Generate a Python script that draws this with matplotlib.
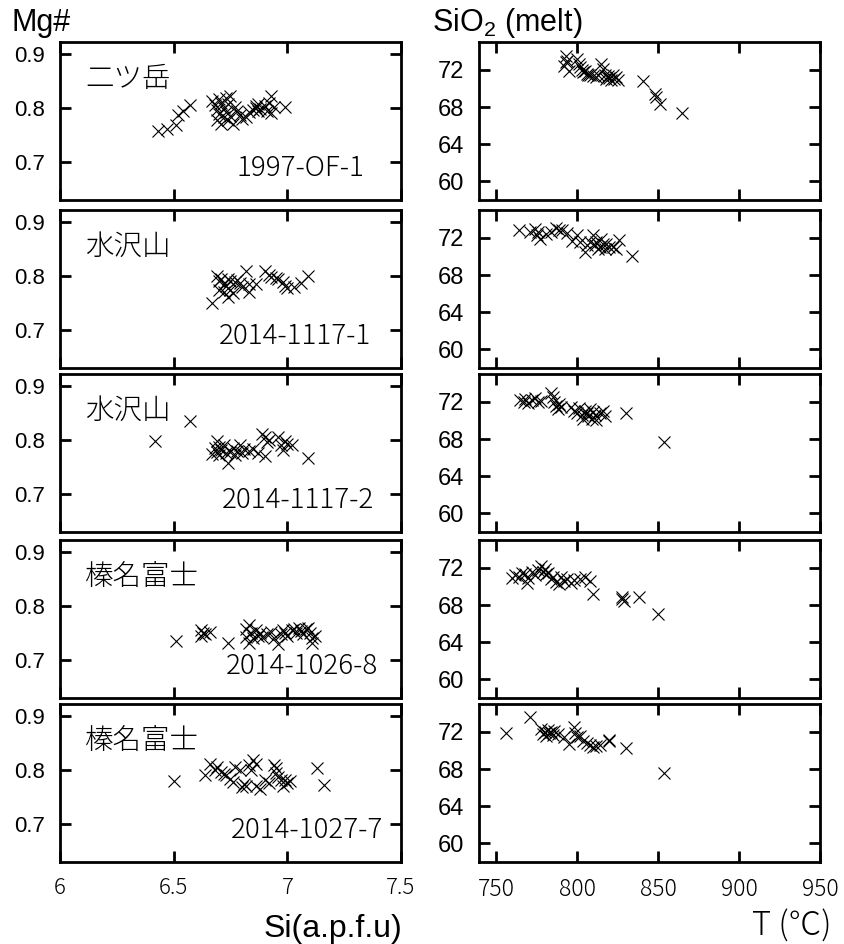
import matplotlib
matplotlib.use("Agg")
import matplotlib.pyplot as plt

plt.rcParams['mathtext.fontset'] = 'custom'
plt.rcParams['mathtext.rm'] = 'Liberation Sans'

volcanoes = ['二ツ岳', '水沢山', '水沢山', '榛名富士', '榛名富士']
samples = ['1997-OF-1', '2014-1117-1', '2014-1117-2', '2014-1026-8', '2014-1027-7']

# Si (a.p.f.u) vs Mg#
si1 = [6.43, 6.47, 6.51, 6.52, 6.54, 6.57, 6.67, 6.68, 6.69, 6.69, 6.70, 6.70, 6.71, 6.71,
       6.72, 6.72, 6.73, 6.73, 6.74, 6.74, 6.75, 6.75, 6.76, 6.77, 6.78, 6.79, 6.80, 6.82,
       6.83, 6.85, 6.86, 6.86, 6.87, 6.87, 6.88, 6.90, 6.91, 6.92, 6.93, 6.93, 6.94, 6.99]
mg1 = [0.758, 0.762, 0.768, 0.788, 0.795, 0.806, 0.813, 0.805, 0.797, 0.778, 0.816, 0.789,
       0.810, 0.771, 0.783, 0.800, 0.819, 0.792, 0.777, 0.807, 0.823, 0.786, 0.770, 0.801,
       0.795, 0.788, 0.780, 0.784, 0.792, 0.797, 0.804, 0.800, 0.795, 0.808, 0.799, 0.804,
       0.795, 0.810, 0.822, 0.790, 0.802, 0.802]

si2 = [6.67, 6.70, 6.69, 6.70, 6.71, 6.72, 6.72, 6.73, 6.74, 6.74, 6.75, 6.75, 6.76, 6.77,
       6.78, 6.79, 6.80, 6.82, 6.83, 6.83, 6.86, 6.90, 6.92, 6.93, 6.95, 6.96, 6.98, 6.99,
       7.00, 7.03, 7.06, 7.09]
mg2 = [0.750, 0.774, 0.800, 0.790, 0.795, 0.785, 0.770, 0.781, 0.795, 0.762, 0.775, 0.790,
       0.768, 0.789, 0.793, 0.788, 0.780, 0.810, 0.770, 0.785, 0.785, 0.809, 0.802, 0.799,
       0.797, 0.795, 0.789, 0.781, 0.778, 0.780, 0.787, 0.800]

si3 = [6.42, 6.57, 6.67, 6.68, 6.69, 6.69, 6.70, 6.70, 6.71, 6.72, 6.73, 6.74, 6.75, 6.76,
       6.77, 6.78, 6.79, 6.80, 6.81, 6.83, 6.85, 6.87, 6.89, 6.90, 6.90, 6.91, 6.92, 6.96,
       6.97, 6.98, 6.99, 7.00, 7.02, 7.09]
mg3 = [0.798, 0.836, 0.775, 0.785, 0.778, 0.798, 0.787, 0.772, 0.782, 0.790, 0.776, 0.758,
       0.778, 0.785, 0.772, 0.780, 0.790, 0.776, 0.784, 0.780, 0.784, 0.776, 0.812, 0.806,
       0.771, 0.797, 0.800, 0.806, 0.790, 0.782, 0.798, 0.793, 0.790, 0.767]

si4 = [6.51, 6.62, 6.62, 6.63, 6.64, 6.66, 6.74, 6.82, 6.82, 6.83, 6.83, 6.84, 6.85, 6.86,
       6.87, 6.88, 6.89, 6.91, 6.93, 6.94, 6.96, 6.97, 6.98, 6.99, 7.00, 7.02, 7.03, 7.04,
       7.05, 7.06, 7.07, 7.08, 7.09, 7.10, 7.11, 7.11, 7.12]
mg4 = [0.735, 0.755, 0.745, 0.750, 0.748, 0.752, 0.732, 0.758, 0.742, 0.765, 0.732, 0.750,
       0.740, 0.755, 0.745, 0.750, 0.742, 0.748, 0.752, 0.740, 0.730, 0.748, 0.755, 0.750,
       0.745, 0.755, 0.758, 0.750, 0.760, 0.753, 0.748, 0.757, 0.760, 0.750, 0.740, 0.732,
       0.745]

si5 = [6.50, 6.64, 6.66, 6.68, 6.69, 6.71, 6.72, 6.73, 6.75, 6.76, 6.77, 6.79, 6.80, 6.81,
       6.82, 6.83, 6.84, 6.85, 6.86, 6.86, 6.88, 6.90, 6.92, 6.94, 6.95, 6.95, 6.96, 6.97,
       6.98, 6.99, 7.00, 7.01, 7.13, 7.16]
mg5 = [0.779, 0.791, 0.812, 0.800, 0.805, 0.797, 0.792, 0.791, 0.783, 0.778, 0.806, 0.800,
       0.768, 0.775, 0.770, 0.809, 0.800, 0.818, 0.812, 0.770, 0.764, 0.782, 0.776, 0.809,
       0.804, 0.794, 0.788, 0.782, 0.770, 0.782, 0.776, 0.779, 0.803, 0.773]

# T (C) vs SiO2 (melt)
t1 = [793, 794, 792, 795, 793, 800, 801, 802, 803, 804, 805, 806, 807, 808, 810, 812, 813,
      815, 816, 817, 818, 819, 820, 821, 822, 823, 824, 825, 841, 848, 849, 851, 865]
sio1 = [73.5, 73.0, 72.4, 71.9, 72.8, 73.2, 72.6, 72.3, 72.0, 71.8, 71.9, 71.6, 71.5, 71.4,
        71.3, 71.2, 71.5, 72.6, 72.1, 71.5, 71.0, 71.3, 71.1, 70.9, 71.4, 71.0, 71.2, 70.9,
        70.8, 69.4, 69.1, 68.3, 67.4]

t2 = [764, 771, 774, 775, 777, 776, 781, 784, 787, 789, 791, 794, 797, 800, 802, 805, 806,
      808, 810, 811, 812, 813, 814, 815, 816, 817, 818, 820, 822, 824, 826, 834]
sio2 = [72.8, 72.6, 73.0, 72.3, 71.9, 72.6, 72.4, 72.6, 73.1, 72.9, 72.8, 72.5, 71.7, 72.3,
        71.6, 70.5, 71.2, 71.6, 72.3, 71.2, 71.6, 70.8, 71.0, 71.9, 71.3, 70.8, 71.3, 71.0,
        71.0, 70.8, 71.8, 70.1]

t3 = [765, 767, 768, 770, 772, 774, 776, 778, 784, 785, 786, 787, 788, 789, 790, 796, 798,
      800, 801, 803, 804, 805, 806, 807, 808, 809, 810, 811, 812, 814, 816, 817, 830, 854]
sio3 = [72.2, 72.0, 72.3, 71.9, 72.2, 72.4, 72.0, 72.1, 73.0, 72.5, 72.0, 71.6, 71.2, 71.8,
        71.4, 71.4, 71.0, 70.8, 71.3, 70.6, 70.2, 71.0, 70.8, 70.5, 71.2, 70.2, 70.9, 70.6,
        70.0, 70.8, 71.0, 70.5, 70.8, 67.7]

t4 = [760, 762, 764, 766, 768, 769, 770, 772, 774, 776, 778, 779, 780, 781, 782, 784, 785,
      787, 789, 790, 792, 794, 796, 798, 802, 805, 808, 810, 828, 828, 829, 838, 850]
sio4 = [70.9, 71.2, 71.0, 71.5, 71.3, 70.4, 70.9, 71.6, 71.2, 71.8, 72.2, 71.6, 71.9, 71.3,
        71.5, 70.8, 71.0, 70.5, 70.3, 71.0, 70.6, 70.8, 70.4, 70.7, 70.8, 71.0, 70.6, 69.2,
        68.9, 68.6, 68.4, 68.9, 67.0]

t5 = [756, 771, 778, 779, 780, 781, 782, 783, 784, 785, 786, 788, 792, 795, 798, 799, 800,
      802, 804, 806, 808, 810, 812, 814, 820, 820, 830, 854]
sio5 = [71.9, 73.6, 72.3, 71.8, 72.0, 71.6, 72.2, 71.9, 72.0, 71.7, 72.1, 71.8, 71.5, 70.7,
        72.5, 71.9, 71.4, 71.6, 71.0, 70.8, 70.6, 70.4, 70.5, 70.6, 71.0, 71.1, 70.3, 67.6]

si_ticks = [6, 6.5, 7, 7.5]
si_labels = ['6', '6.5', '7', '7.5']
mg_ticks = [0.7, 0.8, 0.9]
mg_labels = ['0.7', '0.8', '0.9']
t_ticks = [750, 800, 850, 900, 950]
t_labels = ['750', '800', '850', '900', '950']
sio_ticks = [60, 64, 68, 72]
sio_labels = ['60', '64', '68', '72']

si_all = [si1, si2, si3, si4, si5]
mg_all = [mg1, mg2, mg3, mg4, mg5]
t_all = [t1, t2, t3, t4, t5]
sio_all = [sio1, sio2, sio3, sio4, sio5]

# right edge of the sample id text in each left panel (data x)
id_x = [7.34, 7.37, 7.38, 7.40, 7.42]

W, H = 845, 944
tops = [42, 210, 374, 540, 704]
ph = 158

fig = plt.figure(figsize=(W / 100, H / 100), dpi=100)

cjk = ['Noto Sans CJK JP', 'DejaVu Sans']
helv = 'Liberation Sans'


def style(ax):
    for s in ax.spines.values():
        s.set_linewidth(2.0)
    ax.tick_params(direction='in', top=True, right=True, length=8, width=2.0, pad=11)


for i in range(5):
    bottom = 1 - (tops[i] + ph) / H
    axl = fig.add_axes([60 / W, bottom, 341 / W, ph / H])
    axr = fig.add_axes([479 / W, bottom, 341 / W, ph / H])

    axl.plot(si_all[i], mg_all[i], 'x', color='black', markersize=8.5, markeredgewidth=0.8)
    axl.set_xlim(6, 7.5)
    axl.set_ylim(0.63, 0.922)
    axl.set_xticks(si_ticks)
    axl.set_xticklabels(si_labels, fontfamily=cjk, fontsize=16, fontweight='light')
    axl.set_yticks(mg_ticks)
    axl.set_yticklabels(mg_labels, fontfamily=helv, fontsize=16)
    axl.text(6.11, 0.855, volcanoes[i], family=cjk, fontsize=20.5, fontweight='light',
             va='center', ha='left', color='black')
    axl.text(id_x[i], 0.69, samples[i], family=cjk, fontsize=20, fontweight='light',
             va='center', ha='right', color='black')

    axr.plot(t_all[i], sio_all[i], 'x', color='black', markersize=8.5, markeredgewidth=0.8)
    axr.set_xlim(739.5, 950)
    axr.set_ylim(58, 75)
    axr.set_xticks(t_ticks)
    axr.set_xticklabels(t_labels, fontfamily=cjk, fontsize=16.5, fontweight='light')
    axr.set_yticks(sio_ticks)
    axr.set_yticklabels(sio_labels, fontfamily=helv, fontsize=17)

    style(axl)
    style(axr)
    if i < 4:
        axl.tick_params(labelbottom=False)
        axr.tick_params(labelbottom=False)

fig.text(12 / W, 1 - 23 / H, 'Mg#', family=helv, fontsize=22, va='center', ha='left')
fig.text(432 / W, 1 - 23 / H, r'SiO$_\mathrm{2}$ (melt)', family=helv, fontsize=22,
         va='center', ha='left')
fig.text(402 / W, 1 - 929 / H, 'Si(a.p.f.u)', family=helv, fontsize=23, va='center',
         ha='right')
fig.text(832 / W, 1 - 925 / H, 'T (℃)', family=cjk, fontsize=23.5, fontweight='light',
         va='center', ha='right')

fig.savefig('out.png', dpi=100)
